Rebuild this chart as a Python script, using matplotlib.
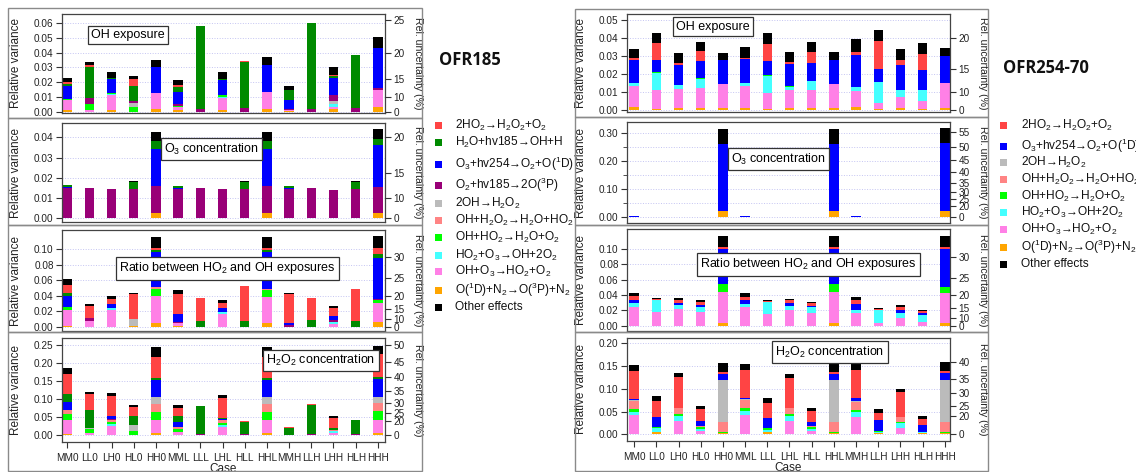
import numpy as np
import matplotlib
matplotlib.use("Agg")
import matplotlib.pyplot as plt
from matplotlib.patches import Rectangle

plt.rcParams['font.family'] = ['Liberation Sans', 'DejaVu Sans']
plt.rcParams['mathtext.fontset'] = 'custom'
plt.rcParams['mathtext.rm'] = 'Liberation Sans'
plt.rcParams['mathtext.it'] = 'Liberation Sans:italic'
plt.rcParams['mathtext.bf'] = 'Liberation Sans:bold'

W, H = 1136, 472

cases = ["MM0", "LL0", "LH0", "HL0", "HH0", "MML", "LLL", "LHL", "HLL", "HHL",
         "MMH", "LLH", "LHH", "HLH", "HHH"]

# stacking order, bottom -> top
order = ['o1d', 'oho3', 'ho2o3', 'ohho2', 'ohh2o2', 'oh2', 'o2hv', 'o3hv', 'h2ohv', 'ho2ho2', 'other']

colors = {
    'ho2ho2': '#ff4444', 'h2ohv': '#008a00', 'o3hv': '#0000ff', 'o2hv': '#990077',
    'oh2': '#bbbbbb', 'ohh2o2': '#ff8484', 'ohho2': '#00ff00', 'ho2o3': '#44ffff',
    'oho3': '#ff80e6', 'o1d': '#ffa500', 'other': '#000000',
}
labels = {
    'ho2ho2': '2HO$_2$→H$_2$O$_2$+O$_2$',
    'h2ohv': 'H$_2$O+hv185→OH+H',
    'o3hv': 'O$_3$+hv254→O$_2$+O($^1$D)',
    'o2hv': 'O$_2$+hv185→2O($^3$P)',
    'oh2': '2OH→H$_2$O$_2$',
    'ohh2o2': 'OH+H$_2$O$_2$→H$_2$O+HO$_2$',
    'ohho2': 'OH+HO$_2$→H$_2$O+O$_2$',
    'ho2o3': 'HO$_2$+O$_3$→OH+2O$_2$',
    'oho3': 'OH+O$_3$→HO$_2$+O$_2$',
    'o1d': 'O($^1$D)+N$_2$→O($^3$P)+N$_2$',
    'other': 'Other effects',
}

# ---- OFR185 : relative variance contributions per case ----
oh_185 = {
    'o1d':    [.001, 0, .001, 0, .002, .001, 0, .001, 0, .002, .0005, 0, .0015, 0, .003],
    'oho3':   [.007, .001, .010, 0, .011, .002, 0, .008, 0, .0115, .0005, 0, .0015, 0, .012],
    'ho2o3':  [0, 0, .001, 0, 0, 0, 0, .001, 0, 0, 0, 0, .002, 0, 0],
    'ohho2':  [.0005, .004, .0005, .003, 0, .001, 0, .001, 0, 0, 0, 0, .0005, 0, 0],
    'oh2':    [0, 0, 0, .003, 0, 0, 0, 0, 0, 0, 0, 0, .0015, 0, 0],
    'o2hv':   [0, .004, 0, .0015, 0, .001, .002, 0, .0025, 0, .001, .002, .004, .0025, .001],
    'o3hv':   [.009, 0, .0095, 0, .017, .0085, 0, .0105, 0, .0185, .006, 0, .012, 0, .0275],
    'h2ohv':  [.0015, .021, .001, .010, 0, .0035, .056, .001, .031, 0, .007, .058, .001, .036, 0],
    'ho2ho2': [.001, .002, 0, .005, 0, .001, 0, 0, .001, 0, 0, 0, .001, 0, 0],
    'other':  [.003, .002, .004, .0015, .005, .0035, 0, .0045, 0, .005, .0025, 0, .0055, 0, .007],
}
o3_185 = {
    'o1d':   [0, 0, 0, 0, .0025, 0, 0, 0, 0, .0025, 0, 0, 0, 0, .0028],
    'o2hv':  [.015, .0148, .0143, .0145, .0135, .0145, .0148, .0143, .0145, .0135, .0145, .0148, .0138, .0145, .0125],
    'o3hv':  [.0005, 0, .0003, 0, .0185, .0005, 0, .0002, 0, .0185, .0005, 0, .0003, 0, .0207],
    'h2ohv': [.001, 0, 0, .0035, .0035, .0008, 0, 0, .0035, .0035, .0008, 0, 0, .0035, .003],
    'other': [0, 0, 0, .0005, .0045, 0, 0, 0, .0005, .0045, 0, 0, 0, .0005, .005],
}
ratio_185 = {
    'o1d':    [.0015, 0, 0, .001, .005, .001, 0, 0, 0, .005, 0, 0, 0, 0, .006],
    'oho3':   [.0205, .007, .021, 0, .034, .004, 0, .017, 0, .033, 0, 0, .003, 0, .025],
    'ho2o3':  [0, 0, .003, 0, 0, 0, 0, .002, 0, 0, 0, 0, .003, 0, 0],
    'ohho2':  [.003, 0, 0, 0, .010, 0, 0, 0, 0, .009, 0, 0, 0, 0, .003],
    'ohh2o2': [0, 0, 0, 0, .002, 0, 0, 0, 0, .002, 0, 0, 0, 0, 0],
    'oh2':    [0, 0, 0, .009, 0, 0, 0, 0, 0, 0, 0, 0, 0, 0, 0],
    'o2hv':   [0, .004, 0, 0, 0, .001, 0, 0, 0, 0, .002, 0, .003, 0, .002],
    'o3hv':   [.015, 0, .0055, 0, .045, .010, 0, .005, 0, .047, .003, 0, .005, 0, .052],
    'h2ohv':  [.003, 0, 0, 0, .003, 0, .008, 0, .007, .003, 0, .009, 0, .008, .005],
    'ho2ho2': [.011, .016, .0065, .032, .002, .026, .029, .007, .0455, .002, .037, .028, .010, .041, .008],
    'other':  [.0075, .002, .004, .001, .015, .005, 0, .004, 0, .015, .001, 0, .003, 0, .016],
}
h2o2_185 = {
    'o1d':    [.003, 0, 0, 0, .005, 0, 0, 0, 0, .005, 0, 0, 0, 0, .005],
    'oho3':   [.040, .005, .024, 0, .036, .010, 0, .022, 0, .036, 0, 0, .007, 0, .038],
    'ho2o3':  [0, 0, .007, 0, 0, 0, 0, .007, 0, 0, 0, 0, .004, 0, 0],
    'ohho2':  [.016, .012, .005, .011, .024, .008, 0, .004, 0, .024, 0, 0, 0, 0, .025],
    'ohh2o2': [.012, 0, .006, 0, .021, .005, 0, .008, 0, .021, 0, 0, .004, 0, .020],
    'oh2':    [0, .002, 0, .018, .019, 0, 0, 0, 0, .019, 0, 0, 0, 0, .019],
    'o2hv':   [0, 0, .004, 0, 0, 0, .004, 0, .002, 0, 0, .004, 0, .002, 0],
    'o3hv':   [.020, 0, .007, 0, .047, .013, 0, .005, 0, .047, 0, 0, 0, 0, .048],
    'h2ohv':  [.023, .052, 0, .024, .005, .016, .076, .002, .035, .005, .020, .079, .005, .040, .005],
    'ho2ho2': [.055, .042, .056, .026, .060, .023, .002, .055, .001, .060, .002, .003, .028, 0, .065],
    'other':  [.016, .007, .008, .005, .027, .008, 0, .008, 0, .027, 0, 0, .004, 0, .023],
}

# ---- OFR254-70 ----
oh_254 = {
    'o1d':    [.0015, .0008, .001, .001, .001, .001, .0008, .0012, .001, .001, .0018, .0005, .0013, .0008, .001],
    'oho3':   [.012, .0102, .0108, .0113, .0133, .0123, .0089, .0098, .010, .0133, .0087, .0032, .006, .0042, .0138],
    'ho2o3':  [.0013, .0095, .002, .0049, 0, .0015, .0093, .002, .0052, 0, .0025, .0116, .0037, .0063, 0],
    'ohho2':  [0, .0005, .0002, .0004, 0, 0, .0005, .0005, 0, 0, 0, .0004, .0003, 0, 0],
    'o3hv':   [.0132, .007, .0112, .0094, .0132, .0137, .0075, .012, .010, .0135, .0177, .0073, .0135, .0107, .0152],
    'ho2ho2': [.0008, .009, .0008, .0055, 0, .0005, .0097, .001, .0058, 0, .0015, .0155, .0027, .0093, 0],
    'other':  [.0052, .006, .0058, .0055, .0043, .0058, .0061, .0055, .0058, .0042, .0073, .0057, .0062, .0057, .0045],
}
o3_254 = {
    'o1d':   [0, .0008, 0, .0008, .023, 0, .0008, 0, .0008, .023, 0, .0008, 0, .0008, .022],
    'oho3':  [.001, 0, 0, 0, 0, .001, 0, 0, 0, 0, .001, 0, 0, 0, 0],
    'ho2o3': [0, 0, .0005, 0, 0, 0, 0, .0005, 0, 0, 0, 0, .0005, 0, 0],
    'o3hv':  [.003, 0, .0012, 0, .237, .003, 0, .0012, 0, .237, .003, 0, .0012, 0, .240],
    'other': [0, 0, 0, 0, .0535, 0, 0, 0, 0, .0535, 0, 0, 0, 0, .055],
}
ratio_254 = {
    'o1d':    [0, 0, 0, 0, .003, 0, 0, 0, 0, .003, 0, 0, 0, 0, .003],
    'oho3':   [.025, .018, .022, .018, .041, .024, .015, .021, .016, .041, .016, .004, .010, .005, .039],
    'ho2o3':  [.004, .0155, .005, .007, 0, .004, .016, .005, .008, 0, .005, .017, .007, .009, 0],
    'ohho2':  [0, 0, 0, 0, .0105, 0, 0, 0, 0, .0105, 0, 0, 0, 0, .009],
    'o3hv':   [.004, 0, .002, .002, .0455, .005, 0, .003, .002, .0455, .007, 0, .004, .003, .0495],
    'ho2ho2': [.0055, .0015, .0045, .004, .002, .005, .0015, .004, .003, .002, .005, .001, .004, .0025, .0015],
    'other':  [.0035, .0015, .0025, .002, .015, .004, .0015, .002, .002, .015, .005, .001, .0025, .0015, .015],
}
h2o2_254 = {
    'o1d':    [0, .004, 0, 0, .002, 0, .004, 0, 0, .002, 0, .003, 0, .002, .002],
    'oho3':   [.042, 0, .030, .008, 0, .043, 0, .029, .008, 0, .037, 0, .014, 0, 0],
    'ho2o3':  [.008, .010, .010, .004, 0, .008, .006, .011, .004, 0, .011, .003, .010, .004, 0],
    'ohho2':  [.005, .002, .005, .004, .002, .007, .003, .005, .004, .002, .005, .002, .004, 0, .002],
    'ohh2o2': [.019, .001, .012, .002, .024, .017, .001, .013, .002, .024, .019, 0, .010, 0, .024],
    'oh2':    [.002, 0, 0, 0, .092, .002, 0, 0, 0, .092, .002, 0, 0, 0, .092],
    'o3hv':   [.002, .020, 0, .011, .013, .003, .022, 0, .009, .013, .006, .023, 0, .015, .014],
    'ho2ho2': [.062, .036, .068, .026, .005, .062, .032, .066, .024, .005, .061, .016, .055, .013, .006],
    'other':  [.012, .012, .009, .007, .018, .012, .011, .009, .007, .018, .013, .009, .007, .006, .020],
}

legend_185 = ['ho2ho2', 'h2ohv', 'o3hv', 'o2hv', 'oh2', 'ohh2o2', 'ohho2', 'ho2o3', 'oho3', 'o1d', 'other']
legend_254 = ['ho2ho2', 'o3hv', 'oh2', 'ohh2o2', 'ohho2', 'ho2o3', 'oho3', 'o1d', 'other']

fig = plt.figure(figsize=(W / 100, H / 100), dpi=100)


def px_axes(x0, y0, x1, y1):
    return fig.add_axes([x0 / W, 1 - y1 / H, (x1 - x0) / W, (y1 - y0) / H])


def draw_panel(box, data, ylim, lticks, rticks, title, tpos, xlim, bottom_panel, minor=None):
    ax = px_axes(*box)
    x = np.arange(len(cases))
    base = np.zeros(len(cases))
    for key in order:
        if key not in data:
            continue
        h = np.array(data[key])
        ax.bar(x, h, bottom=base, width=0.42, color=colors[key], linewidth=0, zorder=2)
        base += h
    ax.set_xlim(*xlim)
    ax.set_ylim(*ylim)
    ax.set_yticks(lticks)
    ax.set_yticklabels([f"{t:.2f}" for t in lticks])
    if minor is not None:
        ax.set_yticks(minor, minor=True)
        ax.tick_params(axis='y', which='minor', direction='out', length=3, color='#333')
    ax.grid(axis='y', which='both', linestyle=':', color='#c4c4f2', linewidth=0.7, zorder=0)
    ax.tick_params(axis='y', direction='out', length=4.5, width=0.8, labelsize=7.2, pad=1.5,
                   color='#333', labelcolor='#222')
    ax.set_xticks(x)
    if bottom_panel:
        ax.set_xticklabels(cases)
        ax.tick_params(axis='x', direction='out', length=4.5, width=0.8, labelsize=7.2, pad=3.5,
                       color='#333', labelcolor='#222')
        ax.set_xlabel('Case', fontsize=8.5, color='#222', labelpad=0)
    else:
        ax.tick_params(axis='x', bottom=False, labelbottom=False)
    for s in ax.spines.values():
        s.set_color('#444')
        s.set_linewidth(0.9)
    ax.set_ylabel('Relative variance', fontsize=8.5, color='#222')
    ax.yaxis.set_label_coords(-0.124, 0.5)

    ax2 = ax.twinx()
    ax2.set_ylim(*ylim)
    ax2.set_yticks([(u / 100.0) ** 2 for u in rticks])
    ax2.set_yticklabels([str(u) for u in rticks])
    ax2.tick_params(axis='y', direction='out', length=4.5, width=0.8, labelsize=7.2, pad=1.5,
                    color='#333', labelcolor='#222')
    for s in ax2.spines.values():
        s.set_visible(False)
    ax2.set_ylabel('Rel. uncertainty (%)', rotation=-90, fontsize=7.6, color='#222')
    ax2.yaxis.set_label_coords(1.117, 0.5)

    ax.text(tpos[0], tpos[1], title, transform=ax.transAxes, fontsize=9, ha='center', va='center',
            zorder=10, bbox=dict(boxstyle='square,pad=0.25', fc='white', ec='#333', lw=0.9))
    return ax


xl_185 = (-0.23, 14.32)
xl_254 = (-0.32, 14.23)

draw_panel((62, 14, 385, 113), oh_185, (-0.0009, 0.0663), np.arange(0, 0.061, 0.01),
           [0, 10, 15, 20, 25], 'OH exposure', (0.203, 0.788), xl_185, False)
draw_panel((62, 123, 385, 222), o3_185, (-0.0018, 0.0471), np.arange(0, 0.041, 0.01),
           [0, 10, 15, 20], 'O$_3$ concentration', (0.464, 0.737), xl_185, False)
draw_panel((62, 230, 385, 331), ratio_185, (-0.0055, 0.1245), np.arange(0, 0.101, 0.02),
           [0, 10, 15, 20, 25, 30], 'Ratio between HO$_2$ and OH exposures', (0.511, 0.619), xl_185, False)
draw_panel((62, 338, 385, 442), h2o2_185, (-0.019, 0.269), np.arange(0, 0.251, 0.05),
           [0, 20, 25, 30, 35, 40, 45, 50], 'H$_2$O$_2$ concentration', (0.802, 0.784), xl_185, True)

draw_panel((627, 14, 950, 112), oh_254, (-0.0011, 0.0533), np.arange(0, 0.051, 0.01),
           [0, 10, 15, 20], 'OH exposure', (0.266, 0.872), xl_254, False)
draw_panel((627, 122, 950, 223), o3_254, (-0.021, 0.3376), np.arange(0, 0.31, 0.1),
           [0, 20, 25, 30, 35, 40, 45, 50, 55], 'O$_3$ concentration', (0.469, 0.632), xl_254, False,
           minor=np.arange(0.05, 0.31, 0.1))
draw_panel((627, 229, 950, 331), ratio_254, (-0.0069, 0.126), np.arange(0, 0.101, 0.02),
           [0, 10, 15, 20, 25, 30], 'Ratio between HO$_2$ and OH exposures', (0.562, 0.652), xl_254, False)
draw_panel((627, 338, 950, 441), h2o2_254, (-0.0147, 0.2117), np.arange(0, 0.201, 0.05),
           [0, 20, 25, 30, 35, 40], 'H$_2$O$_2$ concentration', (0.628, 0.864), xl_254, True)

# panel frames
for x0, x1, ys in [(8, 422, [8, 118, 225, 332, 471]), (575, 988, [9, 117, 225, 332, 471])]:
    for y0, y1 in zip(ys[:-1], ys[1:]):
        fig.add_artist(Rectangle((x0 / W, 1 - y1 / H), (x1 - x0) / W, (y1 - y0) / H,
                                 transform=fig.transFigure, fill=False, ec='#8a8a8a', lw=1.0))

# titles and legends
fig.text(439 / W, 1 - 60 / H, 'OFR185', fontsize=12, fontweight='bold', family='Open Sans',
         va='center', ha='left', color='#111')
fig.text(1003 / W, 1 - 68 / H, 'OFR254-70', fontsize=12, fontweight='bold', family='Open Sans',
         va='center', ha='left', color='#111')

rows_185 = [125, 142, 164, 185, 203, 220, 237, 255, 271, 290, 307]
rows_254 = [125, 146, 162, 179, 196, 212, 229, 247, 264]
for keys, rows, mx, tx in [(legend_185, rows_185, 438, 455), (legend_254, rows_254, 1003, 1021)]:
    for k, y in zip(keys, rows):
        fig.add_artist(Rectangle(((mx - 3) / W, 1 - (y + 3.5) / H), 7 / W, 7 / H,
                                 transform=fig.transFigure, fc=colors[k], ec='none'))
        fig.text(tx / W, 1 - y / H, labels[k], fontsize=8.6, va='center', ha='left', color='#111')

fig.savefig('out.png', dpi=100)
